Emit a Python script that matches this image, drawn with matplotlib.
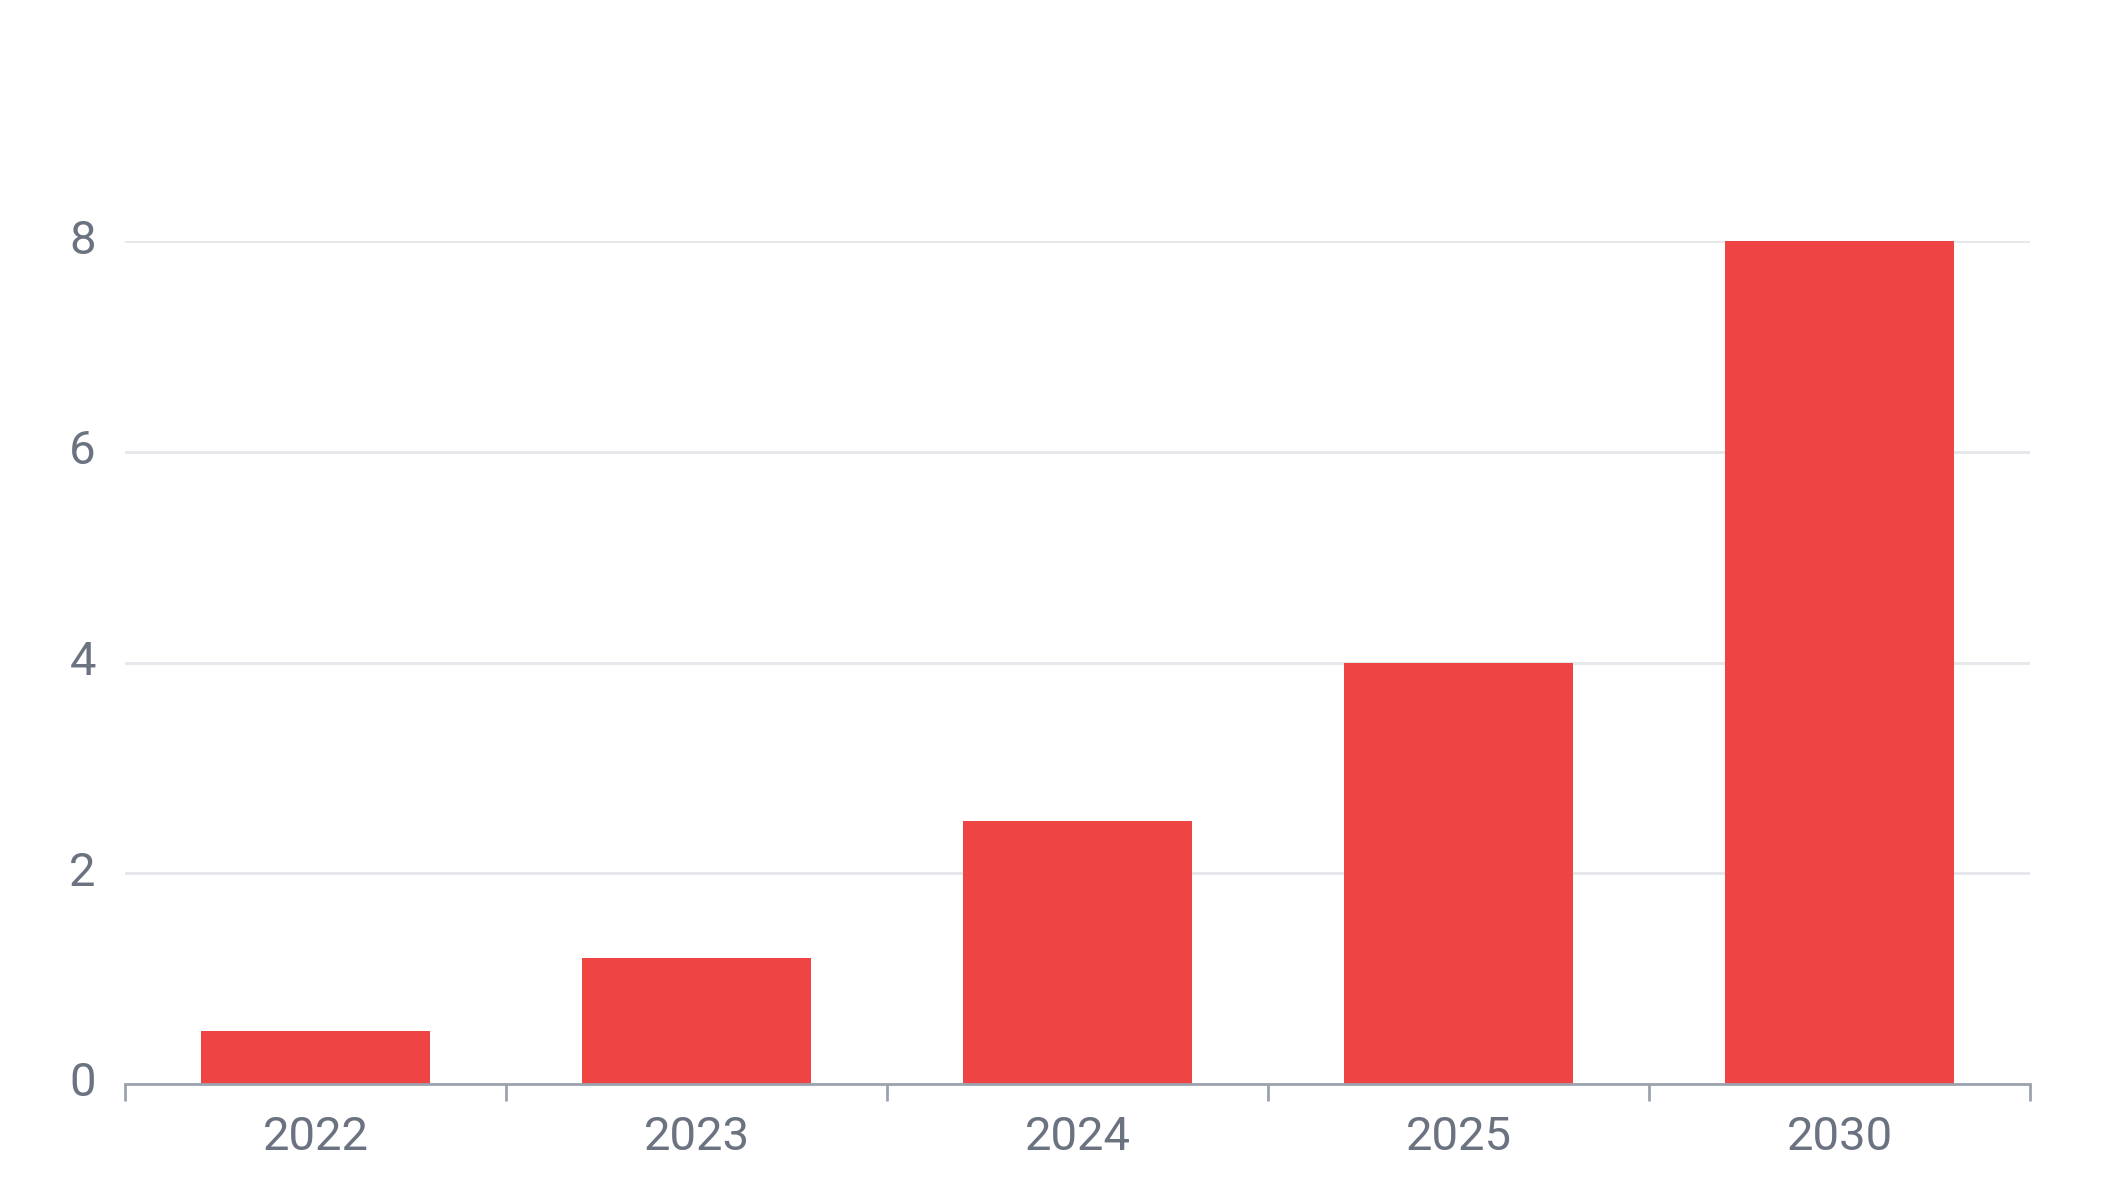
import matplotlib
matplotlib.use("Agg")
import matplotlib.pyplot as plt
import matplotlib.transforms as mtransforms
import numpy as np

categories = ["2022", "2023", "2024", "2025", "2030"]
values = [0.5, 1.2, 2.5, 4.0, 8.0]
y_ticks = [0, 2, 4, 6, 8]

BAR = "#ef4444"
TEXT = "#6b7280"
AXIS = "#9ca3af"
GRID = "#e5e7eb"

plt.rcParams['font.family'] = ['Roboto', 'DejaVu Sans']

fig = plt.figure(figsize=(21.12, 12), dpi=100)
ax = fig.add_axes([125/2112, 1 - 1084/1200, (2030-125)/2112, (1084-241)/1200])

x = np.arange(len(categories))
ax.bar(x, values, width=0.6, color=BAR, zorder=3, clip_on=False)

ax.set_xlim(-0.5, len(categories) - 0.5)
ax.set_ylim(0, 8)
ax.set_xticks(x)
ax.set_xticklabels(categories)
ax.set_xticks(np.arange(len(categories) + 1) - 0.5, minor=True)
ax.set_yticks(y_ticks)
ax.set_yticklabels([str(v) for v in y_ticks])

ax.tick_params(axis='x', which='major', length=0, pad=22, labelsize=34, labelcolor=TEXT)
ax.tick_params(axis='x', which='minor', length=12, width=2, color=AXIS)
ax.tick_params(axis='y', length=0, pad=21, labelsize=34, labelcolor=TEXT)

offset = mtransforms.ScaledTranslation(0, 5/100, fig.dpi_scale_trans)
for lbl in ax.get_yticklabels():
    lbl.set_transform(lbl.get_transform() + offset)

for s in ['top', 'right', 'left']:
    ax.spines[s].set_visible(False)
ax.spines['bottom'].set_color(AXIS)
ax.spines['bottom'].set_linewidth(2)
ax.spines['bottom'].set_zorder(4)

ax.yaxis.grid(True, color=GRID, linewidth=2)
ax.set_axisbelow(True)

fig.savefig("out.png", dpi=100, facecolor="white")
